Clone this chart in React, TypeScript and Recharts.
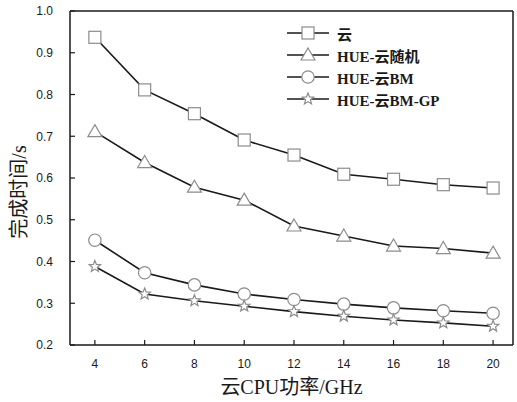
import { LineChart, Line, XAxis, YAxis, ReferenceLine } from 'recharts'

const xs = [4, 6, 8, 10, 12, 14, 16, 18, 20]
const cloud = [0.937, 0.811, 0.754, 0.691, 0.655, 0.609, 0.597, 0.584, 0.576]
const hueRandom = [0.711, 0.637, 0.578, 0.547, 0.485, 0.461, 0.437, 0.431, 0.42]
const hueBM = [0.451, 0.373, 0.344, 0.322, 0.309, 0.298, 0.289, 0.282, 0.276]
const hueBMGP = [0.388, 0.322, 0.306, 0.293, 0.28, 0.269, 0.26, 0.253, 0.245]
const yTicks = [0.2, 0.3, 0.4, 0.5, 0.6, 0.7, 0.8, 0.9, 1.0]

const names = ['云', 'HUE-云随机', 'HUE-云BM', 'HUE-云BM-GP']
const keys = ['cloud', 'hueRandom', 'hueBM', 'hueBMGP']
const shapes = ['square', 'triangle', 'circle', 'star']

const data = xs.map((x, i) => ({
  x,
  cloud: cloud[i],
  hueRandom: hueRandom[i],
  hueBM: hueBM[i],
  hueBMGP: hueBMGP[i],
}))

const MARK = '#8c8c8c'
const INK = '#1a1a1a'
const serif = '"Liberation Serif", "Noto Sans CJK SC", serif'
const sans = '"Liberation Sans", Arial, sans-serif'

function Marker({ shape, cx, cy }: { shape: string; cx: number; cy: number }) {
  const p = { fill: '#fff', stroke: MARK, strokeWidth: 1.2 }
  if (shape === 'square') return <rect x={cx - 6} y={cy - 6} width={12} height={12} {...p} />
  if (shape === 'circle') return <circle cx={cx} cy={cy} r={6.2} {...p} />
  if (shape === 'triangle')
    return <polygon points={`${cx},${cy - 7} ${cx + 7},${cy + 5} ${cx - 7},${cy + 5}`} {...p} />
  const pts: string[] = []
  for (let k = 0; k < 10; k++) {
    const r = k % 2 === 0 ? 6 : 2.6
    const a = -Math.PI / 2 + (k * Math.PI) / 5
    pts.push(`${cx + r * Math.cos(a)},${cy + r * Math.sin(a)}`)
  }
  return <polygon points={pts.join(' ')} {...p} />
}

const dotFor = (shape: string) => (props: any) => (
  <Marker key={`${shape}-${props.index}`} shape={shape} cx={props.cx} cy={props.cy} />
)

// rotated y title, nudged a bit below the plot's middle like the original
const YTitle = (props: any) => {
  const vb = props.viewBox || { x: 0, y: 11, width: 70, height: 334 }
  const cx = vb.x + 19
  const cy = vb.y + vb.height / 2 + 14
  return (
    <text
      x={cx}
      y={cy}
      transform={`rotate(-90 ${cx} ${cy})`}
      textAnchor="middle"
      dominantBaseline="central"
      fill={INK}
      fontSize={20}
      fontFamily={serif}
    >
      完成时间/s
    </text>
  )
}

export default function App() {
  return (
    <div style={{ position: 'absolute', left: 0, top: 0, width: 517, height: 402, background: '#fff' }}>
      <LineChart width={517} height={402} data={data} margin={{ top: 11, right: 4, bottom: 0, left: 0 }}>
        <XAxis
          dataKey="x"
          type="number"
          domain={[3, 20.8]}
          ticks={xs}
          allowDataOverflow
          height={57}
          tickSize={-5}
          tickMargin={19}
          axisLine={{ stroke: INK, strokeWidth: 1.5 }}
          tickLine={{ stroke: INK, strokeWidth: 1.2 }}
          tick={{ fill: INK, fontSize: 12, fontFamily: sans }}
          label={{ value: '云CPU功率/GHz', position: 'insideBottom', offset: 8, fill: INK, fontSize: 20, fontFamily: serif }}
        />
        <YAxis
          type="number"
          domain={[0.2, 1.0]}
          ticks={yTicks}
          allowDataOverflow
          width={70}
          tickSize={-5}
          tickMargin={22}
          tickFormatter={(v: number) => v.toFixed(1)}
          axisLine={{ stroke: INK, strokeWidth: 1.5 }}
          tickLine={{ stroke: INK, strokeWidth: 1.2 }}
          tick={{ fill: INK, fontSize: 12, fontFamily: sans }}
          label={{ content: YTitle }}
        />
        <ReferenceLine y={1.0} stroke={INK} strokeWidth={1.5} />
        <ReferenceLine x={20.8} stroke={INK} strokeWidth={1.5} />
        {keys.map((k, i) => (
          <Line
            key={k}
            dataKey={k}
            name={names[i]}
            stroke={INK}
            strokeWidth={1.6}
            dot={dotFor(shapes[i])}
            isAnimationActive={false}
          />
        ))}
      </LineChart>
      <div style={{ position: 'absolute', left: 285, top: 22, fontFamily: serif, fontSize: 15, fontWeight: 600, color: INK }}>
        {names.map((n, i) => (
          <div key={n} style={{ display: 'flex', alignItems: 'center', height: 22 }}>
            <svg width={46} height={18}>
              <line x1={2} y1={9} x2={44} y2={9} stroke={INK} strokeWidth={1.6} />
              <Marker shape={shapes[i]} cx={23} cy={9} />
            </svg>
            <span style={{ marginLeft: 6 }}>{n}</span>
          </div>
        ))}
      </div>
    </div>
  )
}
